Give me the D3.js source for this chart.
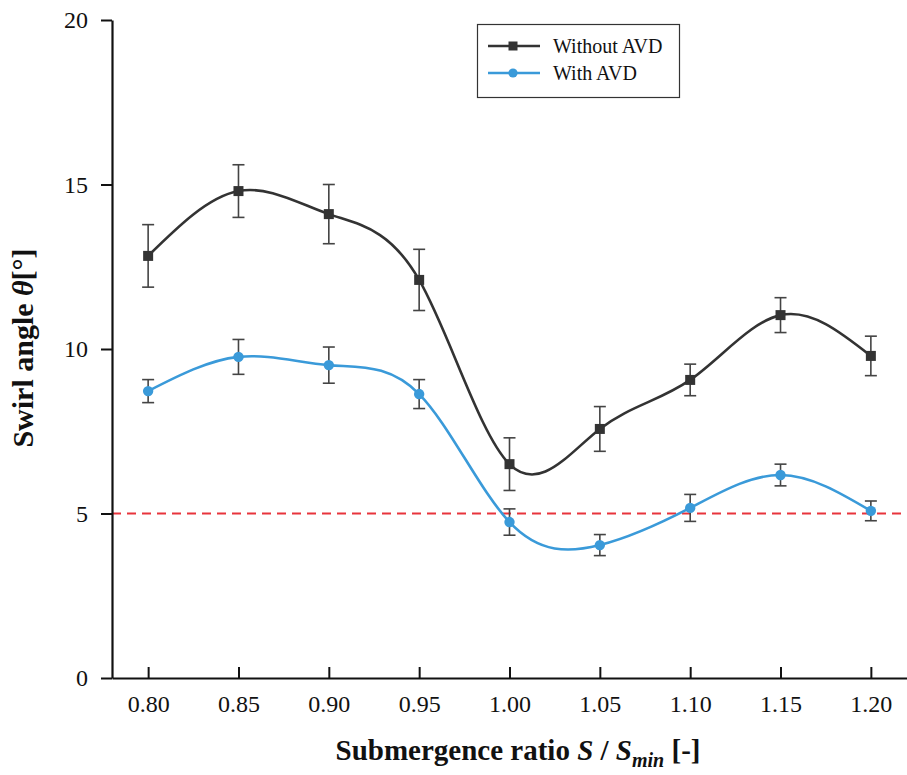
<!DOCTYPE html>
<html><head><meta charset="utf-8">
<script src="https://cdn.jsdelivr.net/npm/d3@7"></script>
<style>body{margin:0;background:#fff;} svg{display:block;}</style>
</head><body>
<svg id="chart" width="907" height="775"></svg>
<script>
const ratios = [0.80, 0.85, 0.90, 0.95, 1.00, 1.05, 1.10, 1.15, 1.20];
const withoutAVD = [12.83, 14.80, 14.10, 12.10, 6.50, 7.57, 9.06, 11.03, 9.79];
const withoutAVDErr = [0.95, 0.80, 0.90, 0.93, 0.80, 0.68, 0.48, 0.53, 0.60];
const withAVD = [8.72, 9.76, 9.51, 8.63, 4.74, 4.04, 5.17, 6.17, 5.08];
const withAVDErr = [0.35, 0.53, 0.55, 0.44, 0.40, 0.32, 0.41, 0.33, 0.30];
const yTicks = [0, 5, 10, 15, 20];
const threshold = 5;

const svg = d3.select("#chart");
const x = d3.scaleLinear().domain([0.78, 1.22]).range([112, 907]);
const y = d3.scaleLinear().domain([0, 20]).range([678, 20]);
const font = "'Liberation Serif','Times New Roman',serif";

// threshold line
svg.append("line").attr("x1", x(0.78)).attr("x2", x(1.22))
  .attr("y1", y(threshold)).attr("y2", y(threshold))
  .attr("stroke", "#e8343c").attr("stroke-width", 2).attr("stroke-dasharray", "9,6");

// axes
const yAxis = svg.append("g").attr("transform", "translate(112,0)")
  .call(d3.axisLeft(y).tickValues(yTicks).tickSize(11).tickSizeOuter(0).tickFormat(d3.format("d")));
const xAxis = svg.append("g").attr("transform", "translate(0,678)")
  .call(d3.axisBottom(x).tickValues(ratios).tickSize(-11).tickSizeOuter(0).tickFormat(d3.format(".2f")));
[yAxis, xAxis].forEach(g => {
  g.select(".domain").attr("stroke", "#111").attr("stroke-width", 2.2);
  g.selectAll(".tick line").attr("stroke", "#111").attr("stroke-width", 2);
  g.selectAll(".tick text").attr("font-family", font).attr("font-size", 24).attr("fill", "#111");
});
yAxis.selectAll(".tick text").attr("x", -24);
xAxis.selectAll(".tick text").attr("y", 17);

// series
const series = [
  {vals: withoutAVD, err: withoutAVDErr, color: "#333333", shape: "square", name: "Without AVD"},
  {vals: withAVD, err: withAVDErr, color: "#3a9ad9", shape: "circle", name: "With AVD"}
];
const line = d3.line().x(d => x(d[0])).y(d => y(d[1])).curve(d3.curveNatural);

series.forEach(s => {
  const pts = ratios.map((r, i) => [r, s.vals[i], s.err[i]]);
  svg.append("path").datum(pts).attr("d", line)
    .attr("fill", "none").attr("stroke", s.color).attr("stroke-width", 2.6);
  const eb = svg.append("g").attr("stroke", "#444").attr("stroke-width", 1.6);
  pts.forEach(p => {
    eb.append("line").attr("x1", x(p[0])).attr("x2", x(p[0])).attr("y1", y(p[1] + p[2])).attr("y2", y(p[1] - p[2]));
    eb.append("line").attr("x1", x(p[0]) - 6).attr("x2", x(p[0]) + 6).attr("y1", y(p[1] + p[2])).attr("y2", y(p[1] + p[2]));
    eb.append("line").attr("x1", x(p[0]) - 6).attr("x2", x(p[0]) + 6).attr("y1", y(p[1] - p[2])).attr("y2", y(p[1] - p[2]));
  });
  pts.forEach(p => {
    if (s.shape === "square") {
      svg.append("rect").attr("x", x(p[0]) - 5).attr("y", y(p[1]) - 5).attr("width", 10).attr("height", 10).attr("fill", s.color);
    } else {
      svg.append("circle").attr("cx", x(p[0])).attr("cy", y(p[1])).attr("r", 5.2).attr("fill", s.color);
    }
  });
});

// legend
const lg = svg.append("g");
lg.append("rect").attr("x", 477.5).attr("y", 24.5).attr("width", 202).attr("height", 73)
  .attr("fill", "#fff").attr("stroke", "#333").attr("stroke-width", 1.2);
series.forEach((s, i) => {
  const yy = 46 + i * 27;
  lg.append("line").attr("x1", 488).attr("x2", 540).attr("y1", yy).attr("y2", yy).attr("stroke", s.color).attr("stroke-width", 2.6);
  if (s.shape === "square") lg.append("rect").attr("x", 508.5).attr("y", yy - 4.5).attr("width", 9).attr("height", 9).attr("fill", s.color);
  else lg.append("circle").attr("cx", 513).attr("cy", yy).attr("r", 4.6).attr("fill", s.color);
  lg.append("text").attr("x", 553).attr("y", yy + 7).attr("font-family", font).attr("font-size", 20).attr("fill", "#111").text(s.name);
});

// axis titles
const xt = svg.append("text").attr("x", 518).attr("y", 760).attr("text-anchor", "middle")
  .attr("font-family", font).attr("font-size", 29).attr("font-weight", "bold").attr("fill", "#111");
xt.append("tspan").text("Submergence ratio  ");
xt.append("tspan").attr("font-style", "italic").text("S");
xt.append("tspan").text(" / ");
xt.append("tspan").attr("font-style", "italic").text("S");
xt.append("tspan").attr("font-style", "italic").attr("font-size", 20).attr("dy", 7).text("min");
xt.append("tspan").attr("dy", -7).text(" [-]");

const yt = svg.append("text").attr("transform", "translate(33,348) rotate(-90)").attr("text-anchor", "middle")
  .attr("font-family", font).attr("font-size", 30).attr("font-weight", "bold").attr("fill", "#111");
yt.append("tspan").text("Swirl angle ");
yt.append("tspan").attr("font-style", "italic").text("θ");
yt.append("tspan").text("[°]");
</script>
</body></html>
